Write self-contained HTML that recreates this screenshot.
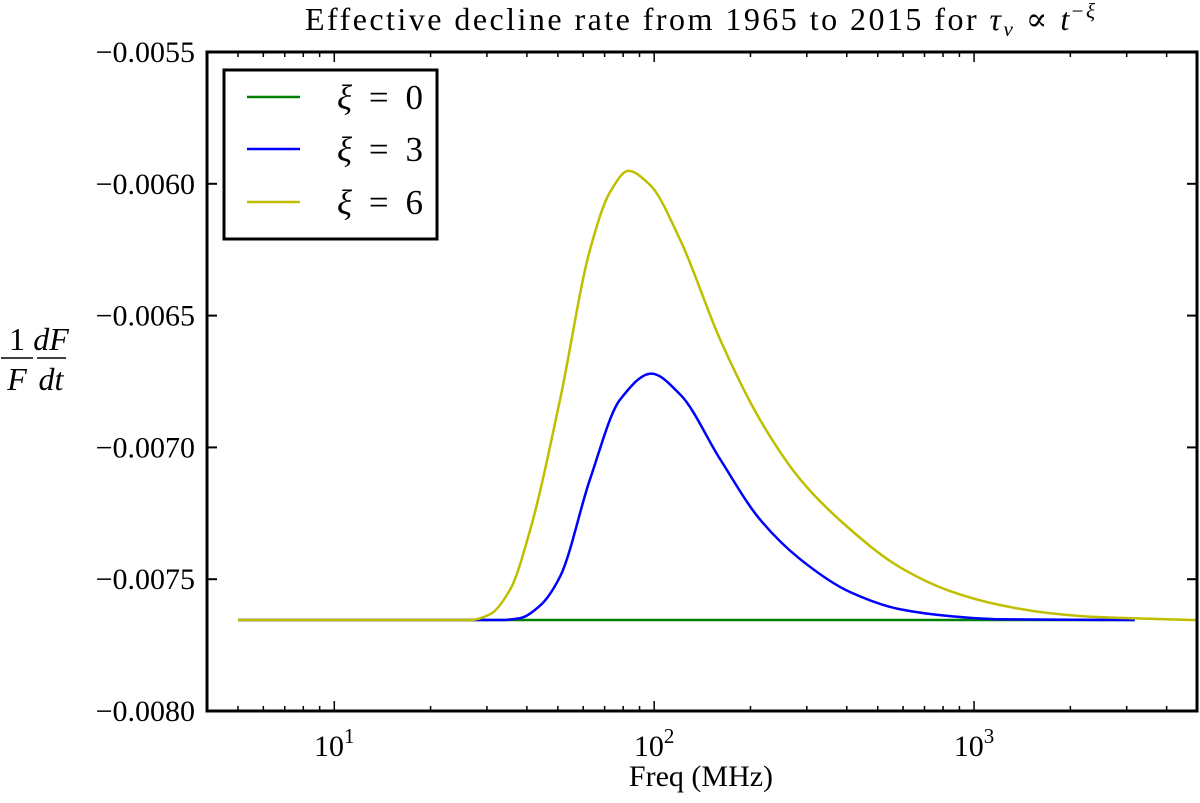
<!DOCTYPE html>
<html><head><meta charset="utf-8"><style>
html,body{margin:0;padding:0;background:#fff;}
svg text{font-family:"Liberation Serif","DejaVu Serif",serif;fill:#000;}
</style></head><body>
<svg id="chart" width="1200" height="798" viewBox="0 0 1200 798" xmlns="http://www.w3.org/2000/svg">
<text x="305" y="30" font-size="32" textLength="790" lengthAdjust="spacing">Effective decline rate from 1965 to 2015 for <tspan font-style="italic">τ</tspan><tspan font-style="italic" font-size="21" dy="6">ν</tspan><tspan dy="-6"> ∝ </tspan><tspan font-style="italic">t</tspan><tspan font-size="21" dy="-12">−</tspan><tspan font-size="21" font-style="italic">ξ</tspan></text>
<g font-size="32" font-style="italic">
<text x="17" y="350" text-anchor="middle" font-style="normal">1</text>
<line x1="1" y1="358" x2="33" y2="358" stroke="#000" stroke-width="1.5"/>
<text x="17" y="390" text-anchor="middle">F</text>
<text x="51" y="350" text-anchor="middle">dF</text>
<line x1="37" y1="358" x2="66" y2="358" stroke="#000" stroke-width="1.5"/>
<text x="51" y="390" text-anchor="middle">dt</text>
</g>
<text x="701" y="786" font-size="30" text-anchor="middle">Freq (MHz)</text>
<g id="grid"></g>
<g id="series" clip-path="url(#clip)"></g>
<defs><clipPath id="clip"><rect x="207" y="52" width="990" height="659"/></clipPath></defs>
<rect x="207" y="52" width="990" height="659" fill="none" stroke="#000" stroke-width="3"/>
<g>
<rect x="224" y="70" width="213" height="169" fill="#fff" stroke="#000" stroke-width="3"/>
<g><line x1="247" y1="97" x2="300" y2="97" stroke="#008000" stroke-width="2.5"/><text x="337" y="109" font-size="35" textLength="86"><tspan font-style="italic">ξ</tspan> = 0</text></g>
<g><line x1="247" y1="149" x2="300" y2="149" stroke="#0000ff" stroke-width="2.5"/><text x="337" y="161" font-size="35" textLength="86"><tspan font-style="italic">ξ</tspan> = 3</text></g>
<g><line x1="247" y1="202" x2="300" y2="202" stroke="#bfbf00" stroke-width="2.5"/><text x="337" y="214" font-size="35" textLength="86"><tspan font-style="italic">ξ</tspan> = 6</text></g>
</g>
</svg>
<script>
const yTicks = [-0.0055, -0.0060, -0.0065, -0.0070, -0.0075, -0.0080];
const yTickLabels = ["−0.0055","−0.0060","−0.0065","−0.0070","−0.0075","−0.0080"];
const xDecades = [1, 2, 3];
const baseline = -0.007655;
const freq0 = [5, 3180];
const freq3 = [5, 33, 38, 44, 50.8, 63, 78.3, 98, 120.5, 160.8, 214, 286, 410, 587, 841, 1205, 3180];
const val3 = [baseline, -0.007655, -0.007648, -0.007600, -0.007490, -0.007121, -0.006818, -0.006720, -0.006799, -0.007045, -0.007273, -0.007424, -0.007549, -0.007614, -0.007640, -0.007652, baseline];
const freq6 = [5, 26.6, 30.7, 35.5, 41, 50.8, 63, 72.9, 83, 97, 120.5, 160.8, 214, 286, 410, 587, 841, 1205, 1728, 2476, 5000];
const val6 = [baseline, -0.007655, -0.007633, -0.007538, -0.007311, -0.006818, -0.006250, -0.006030, -0.005951, -0.006004, -0.006212, -0.006591, -0.006894, -0.007121, -0.007311, -0.007455, -0.007545, -0.007598, -0.007629, -0.007644, baseline];

const X0=207, X1=1197, Y0=52, Y1=711;
const lmin=Math.log10(4.0), lmax=Math.log10(4977);
function xs(f){return X0+(Math.log10(f)-lmin)/(lmax-lmin)*(X1-X0);}
function ys(v){return Y0+(-0.0055-v)/(0.0025)*(Y1-Y0);}
const NS="http://www.w3.org/2000/svg";
const grid=document.getElementById('grid');
function mk(tag,attrs,parent){const e=document.createElementNS(NS,tag);for(const k in attrs)e.setAttribute(k,attrs[k]);parent.appendChild(e);return e;}
yTicks.forEach((v,i)=>{
  const y=ys(v);
  const t=mk('line',{x1:X0,y1:y,x2:X0+10,y2:y,stroke:'#000','stroke-width':2},grid);
  
  
  mk('line',{x1:X1-10,y1:y,x2:X1,y2:y,stroke:'#000','stroke-width':2},grid);
  const l=mk('text',{x:195,y:y+10,'font-size':30,'text-anchor':'end'},grid);
  l.textContent=yTickLabels[i];
  
  
});
for(let d=0; d<=3; d++){
  for(let m=1;m<=9;m++){
    const f=m*Math.pow(10,d); const x=xs(f);
    if(x<X0||x>X1) continue;
    const len=m===1?10:5;
    mk('line',{x1:x,y1:Y1,x2:x,y2:Y1-len,stroke:'#000','stroke-width':1.5},grid);
    mk('line',{x1:x,y1:Y0,x2:x,y2:Y0+len,stroke:'#000','stroke-width':1.5},grid);
  }
}
xDecades.forEach(d=>{
  const x=xs(Math.pow(10,d));
  const t=mk('text',{x:x,y:756,'font-size':30,'text-anchor':'middle'},grid);
  
  
  t.innerHTML='10<tspan font-size="21" dy="-13">'+d+'</tspan>';
});
function pathFor(fs,vs){
  const p=fs.map((f,i)=>[xs(f),ys(vs[i])]);
  const n=p.length;
  if(n<3) return 'M'+p[0]+' L'+p[1];
  const dx=[],s=[];
  for(let i=0;i<n-1;i++){dx.push(p[i+1][0]-p[i][0]);s.push((p[i+1][1]-p[i][1])/dx[i]);}
  const m=[s[0]];
  for(let i=1;i<n-1;i++){ m.push(s[i-1]*s[i]<=0?0:(dx[i-1]+dx[i])*3/((2*dx[i]+dx[i-1])/s[i-1]+(dx[i]+2*dx[i-1])/s[i])); }
  m.push(s[n-2]);
  let d='M'+p[0][0]+','+p[0][1];
  for(let i=0;i<n-1;i++){
    const h=dx[i]/3;
    d+=' C'+(p[i][0]+h)+','+(p[i][1]+m[i]*h)+' '+(p[i+1][0]-h)+','+(p[i+1][1]-m[i+1]*h)+' '+p[i+1][0]+','+p[i+1][1];
  }
  return d;
}
const ser=document.getElementById('series');
const s0=mk('path',{d:pathFor(freq0,[baseline,baseline]),fill:'none',stroke:'#008000','stroke-width':2.5},ser);


const s3=mk('path',{d:pathFor(freq3,val3),fill:'none',stroke:'#0000ff','stroke-width':2.5},ser);


const s6=mk('path',{d:pathFor(freq6,val6),fill:'none',stroke:'#bfbf00','stroke-width':2.5},ser);


</script>
</body></html>
